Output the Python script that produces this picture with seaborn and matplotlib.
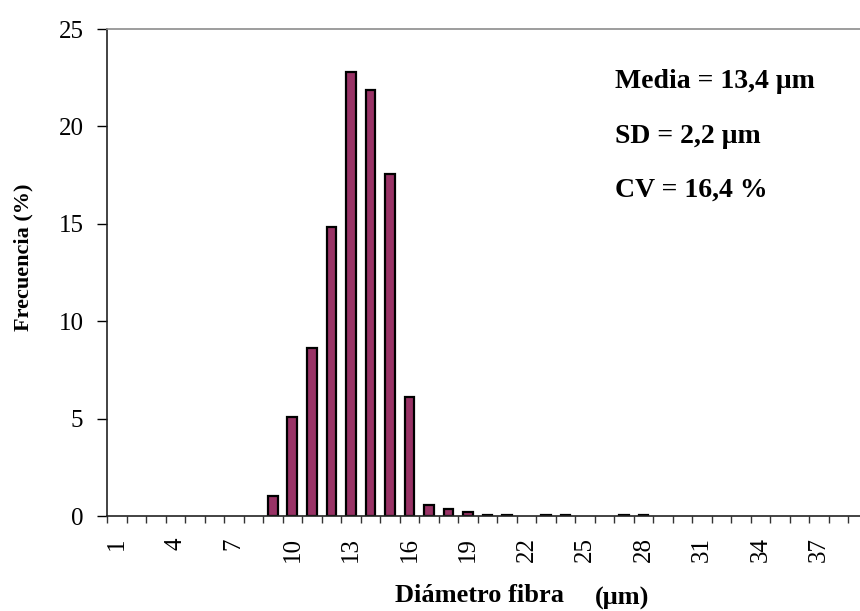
import matplotlib
matplotlib.use("Agg")
import matplotlib.pyplot as plt
import seaborn as sns
import pandas as pd
import numpy as np

# Fibre diameter classes (µm) and their relative frequency (%)
diametro = list(range(1, 40))
frecuencia = [0, 0, 0, 0, 0, 0, 0, 0,
              1.05, 5.12, 8.63, 14.85, 22.8, 21.85, 17.55, 6.14,
              0.58, 0.36, 0.22, 0.08, 0.08, 0, 0.08, 0.08, 0, 0,
              0.08, 0.08, 0, 0, 0, 0, 0, 0, 0, 0, 0, 0, 0]
etiquetas_x = [str(d) for d in diametro]
etiquetas_y = [0, 5, 10, 15, 20, 25]
resumen = ["Media = 13,4 \u03bcm", "SD = 2,2 \u03bcm", "CV = 16,4 %"]

df = pd.DataFrame({"diametro": etiquetas_x, "frecuencia": frecuencia})

sns.set_style("white")
plt.rcParams["font.family"] = ["Liberation Serif", "DejaVu Serif"]
plt.rcParams["text.color"] = "black"
plt.rcParams["axes.labelcolor"] = "black"
plt.rcParams["xtick.color"] = "black"
plt.rcParams["ytick.color"] = "black"

W, H = 860, 611
fig = plt.figure(figsize=(W / 100, H / 100), dpi=100)
ax = fig.add_axes([107 / W, (H - 516.3) / H, (868 - 107) / W, (516.3 - 29) / H])

sns.barplot(data=df, x="diametro", y="frecuencia", order=etiquetas_x,
            color="#993366", saturation=1, edgecolor="black",
            linewidth=1.6, width=0.5, ax=ax)

# empty classes: no outline on the baseline
for patch, v in zip(ax.patches, frecuencia):
    if v == 0:
        patch.set_edgecolor("none")

n = len(diametro)
ax.set_xlim(-0.5, n - 0.5)
ax.set_ylim(0, 25)
ax.set_yticks(etiquetas_y)
ax.set_yticklabels([str(v) for v in etiquetas_y], fontsize=18)

# labels every third class, tick marks on class boundaries
ax.set_xticks(range(0, n, 3))
ax.set_xticklabels(etiquetas_x[::3], rotation=90, fontsize=18)
ax.set_xticks(np.arange(-0.5, n, 1), minor=True)
ax.tick_params(bottom=True, left=True, which="both")
ax.tick_params(axis="x", which="major", length=0, pad=15)
ax.tick_params(axis="x", which="minor", length=5, width=1, color="#333333", direction="out")
ax.tick_params(axis="y", which="major", length=7, width=1, color="black", direction="out", pad=10)

for s in ["left", "bottom"]:
    ax.spines[s].set_color("#222222")
    ax.spines[s].set_linewidth(1.2)
ax.spines["top"].set_color("#8c8c8c")
ax.spines["top"].set_linewidth(1.2)
ax.spines["right"].set_visible(False)

ax.set_xlabel("")
ax.set_ylabel("")
fig.text(23 / W, 1 - 257 / H, "Frecuencia (%)", fontsize=16, fontweight="bold",
         rotation=90, ha="center", va="center")

fig.text(395 / W, 1 - 602 / H, "Diámetro fibra", fontsize=19, fontweight="bold",
         ha="left", va="baseline")
fig.text(595 / W, 1 - 605 / H, "(\u03bcm)", fontsize=19, fontweight="bold",
         ha="left", va="baseline")

for txt, yb in zip(resumen, [88, 143, 197]):
    fig.text(615 / W, 1 - yb / H, txt, fontsize=20, fontweight="bold",
             ha="left", va="baseline")

fig.savefig("out.png", dpi=100)
